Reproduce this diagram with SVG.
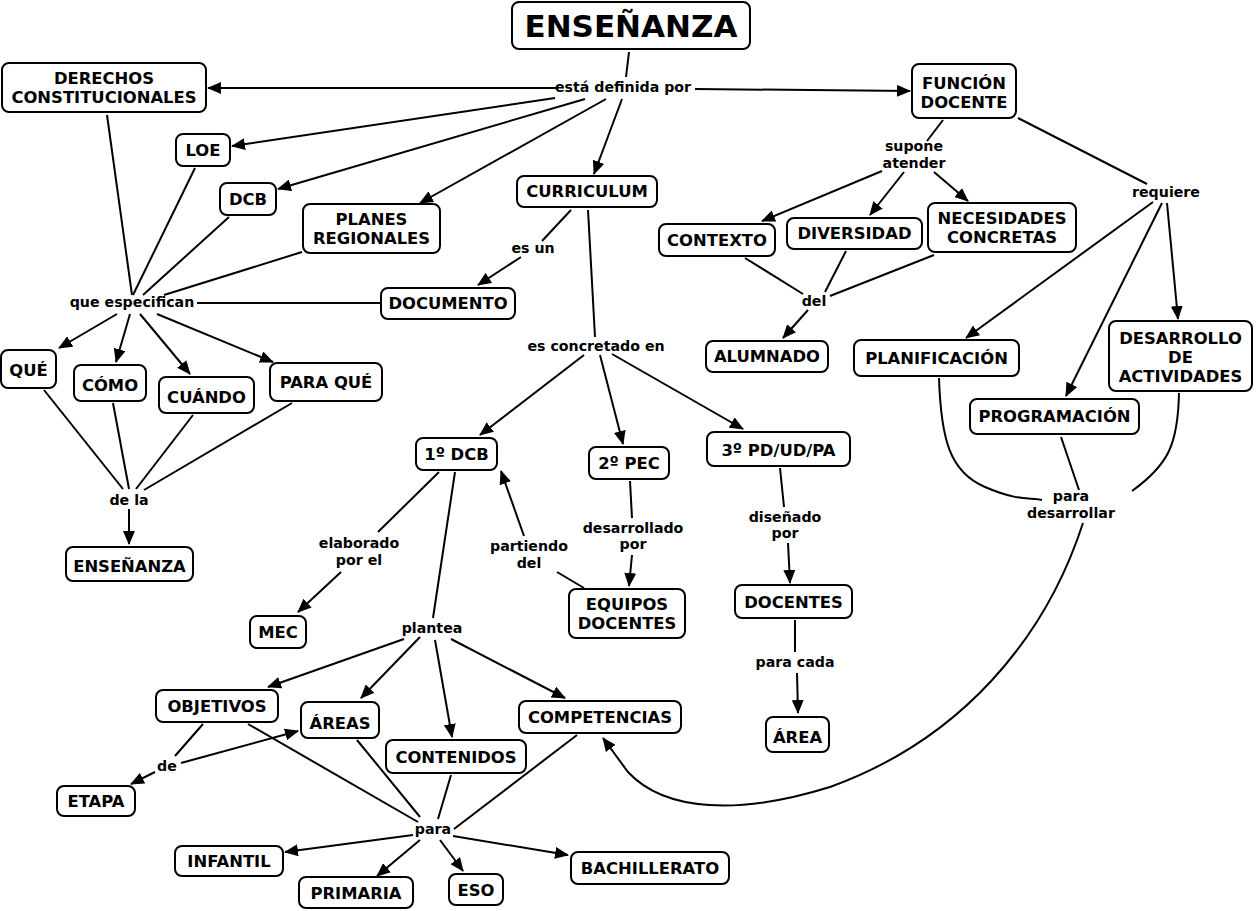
<svg xmlns="http://www.w3.org/2000/svg" width="1256" height="911" viewBox="0 0 1256 911">
<style>
.n rect{fill:#fff;stroke:#000;stroke-width:2}
.n text{font-family:"DejaVu Sans",Verdana,sans-serif;font-weight:bold;font-size:16.4px;text-anchor:middle;fill:#000}
.l{font-family:"DejaVu Sans",Verdana,sans-serif;font-weight:bold;font-size:14.2px;text-anchor:middle;fill:#000}
#connectors path,#connectors line{fill:none;stroke:#000;stroke-width:2}
.a{marker-end:url(#arr)}
</style>
<defs>
<marker id="arr" markerUnits="userSpaceOnUse" markerWidth="14" markerHeight="12" refX="13" refY="6" orient="auto"><path d="M0,0 L14,6 L0,12 z" fill="#000"/></marker>
</defs>
<rect width="1256" height="911" fill="#fff"/>
<g id="connectors">
<line x1="629" y1="52" x2="626" y2="77"/>
<line class="a" x1="556" y1="88" x2="208" y2="88"/>
<line class="a" x1="695" y1="89" x2="910" y2="91"/>
<line class="a" x1="555" y1="98" x2="232" y2="146"/>
<line class="a" x1="585" y1="99" x2="278" y2="189"/>
<line class="a" x1="606" y1="99" x2="420" y2="203"/>
<line class="a" x1="622" y1="99" x2="594" y2="174"/>
<line x1="571" y1="210" x2="542" y2="241"/>
<line class="a" x1="521" y1="257" x2="478" y2="285"/>
<line x1="588" y1="210" x2="595" y2="337"/>
<line class="a" x1="584" y1="355" x2="480" y2="435"/>
<line class="a" x1="600" y1="355" x2="623" y2="444"/>
<line class="a" x1="612" y1="354" x2="743" y2="429"/>
<line x1="107" y1="115" x2="132" y2="295"/>
<line x1="195" y1="168" x2="133" y2="295"/>
<line x1="229" y1="217" x2="143" y2="295"/>
<line x1="302" y1="252" x2="164" y2="295"/>
<line x1="197" y1="303" x2="380" y2="303"/>
<line class="a" x1="117" y1="314" x2="59" y2="348"/>
<line class="a" x1="130" y1="314" x2="116" y2="362"/>
<line class="a" x1="140" y1="314" x2="190" y2="374"/>
<line class="a" x1="157" y1="314" x2="273" y2="362"/>
<line x1="44" y1="390" x2="123" y2="489"/>
<line x1="113" y1="403" x2="129" y2="489"/>
<line x1="193" y1="415" x2="136" y2="489"/>
<line x1="292" y1="403" x2="144" y2="490"/>
<line class="a" x1="129" y1="509" x2="129" y2="544"/>
<line x1="439" y1="472" x2="378" y2="532"/>
<line class="a" x1="341" y1="572" x2="298" y2="612"/>
<line x1="455" y1="472" x2="433" y2="618"/>
<line x1="584" y1="588" x2="557" y2="572"/>
<line class="a" x1="524" y1="536" x2="501" y2="471"/>
<line x1="630" y1="481" x2="632" y2="518"/>
<line class="a" x1="632" y1="555" x2="629" y2="586"/>
<line x1="780" y1="468" x2="784" y2="507"/>
<line class="a" x1="788" y1="543" x2="790" y2="583"/>
<line x1="795" y1="620" x2="795" y2="652"/>
<line class="a" x1="797" y1="673" x2="798" y2="713"/>
<line class="a" x1="404" y1="639" x2="268" y2="687"/>
<line class="a" x1="420" y1="637" x2="361" y2="698"/>
<line class="a" x1="435" y1="640" x2="452" y2="737"/>
<line class="a" x1="451" y1="639" x2="565" y2="698"/>
<line x1="203" y1="724" x2="175" y2="756"/>
<line class="a" x1="155" y1="772" x2="131" y2="784"/>
<line class="a" x1="181" y1="763" x2="298" y2="731"/>
<line x1="248" y1="724" x2="418" y2="822"/>
<line x1="357" y1="740" x2="420" y2="817"/>
<line x1="451" y1="775" x2="438" y2="819"/>
<line x1="577" y1="735" x2="454" y2="829"/>
<line class="a" x1="413" y1="835" x2="285" y2="852"/>
<line class="a" x1="420" y1="840" x2="377" y2="876"/>
<line class="a" x1="440" y1="840" x2="463" y2="871"/>
<line class="a" x1="453" y1="836" x2="568" y2="855"/>
<line x1="943" y1="120" x2="927" y2="141"/>
<line class="a" x1="882" y1="171" x2="762" y2="221"/>
<line class="a" x1="904" y1="172" x2="870" y2="215"/>
<line class="a" x1="934" y1="172" x2="968" y2="201"/>
<line x1="1018" y1="118" x2="1147" y2="184"/>
<line class="a" x1="1153" y1="202" x2="966" y2="338"/>
<line class="a" x1="1162" y1="203" x2="1066" y2="396"/>
<line class="a" x1="1167" y1="203" x2="1178" y2="319"/>
<line x1="745" y1="258" x2="803" y2="294"/>
<line x1="846" y1="251" x2="825" y2="292"/>
<line x1="934" y1="255" x2="830" y2="296"/>
<line class="a" x1="808" y1="310" x2="783" y2="338"/>
<path d="M939,378 C941,440 950,472 985,487 S1030,497 1042,500"/>
<line x1="1061" y1="437" x2="1079" y2="490"/>
<path d="M1179,393 C1178,445 1168,465 1132,491"/>
<path class="a" d="M1083,523 C1045,640 960,740 830,787 C740,815 665,812 628,772 L603,738"/>
</g>
<g id="n_ensenanza" class="n"><rect x="512" y="2" width="238" height="47" rx="7"/><text x="631" y="37" style="font-size:31px">ENSEÑANZA</text></g>
<g id="n_derechos" class="n"><rect x="2" y="63" width="204" height="49" rx="7"/><text x="104" y="84">DERECHOS</text><text x="104" y="103">CONSTITUCIONALES</text></g>
<g id="n_loe" class="n"><rect x="176" y="134" width="54" height="32" rx="7"/><text x="203" y="156">LOE</text></g>
<g id="n_dcb" class="n"><rect x="220" y="183" width="56" height="32" rx="7"/><text x="248" y="205">DCB</text></g>
<g id="n_planes" class="n"><rect x="303" y="204" width="137" height="49" rx="7"/><text x="371.5" y="225">PLANES</text><text x="371.5" y="244">REGIONALES</text></g>
<g id="n_documento" class="n"><rect x="381" y="288" width="134" height="31" rx="7"/><text x="448" y="309">DOCUMENTO</text></g>
<g id="n_curriculum" class="n"><rect x="517" y="176" width="140" height="31" rx="7"/><text x="587" y="197">CURRICULUM</text></g>
<g id="n_funcion" class="n"><rect x="912" y="64" width="104" height="54" rx="7"/><text x="964" y="89">FUNCIÓN</text><text x="964" y="108">DOCENTE</text></g>
<g id="n_contexto" class="n"><rect x="659" y="224" width="116" height="32" rx="7"/><text x="717" y="246">CONTEXTO</text></g>
<g id="n_diversidad" class="n"><rect x="787" y="218" width="135" height="31" rx="7"/><text x="854.5" y="239">DIVERSIDAD</text></g>
<g id="n_necesidades" class="n"><rect x="928" y="203" width="148" height="49" rx="7"/><text x="1002" y="224">NECESIDADES</text><text x="1002" y="243">CONCRETAS</text></g>
<g id="n_alumnado" class="n"><rect x="706" y="341" width="122" height="31" rx="7"/><text x="767" y="362">ALUMNADO</text></g>
<g id="n_planificacion" class="n"><rect x="854" y="340" width="165" height="36" rx="7"/><text x="936.5" y="364">PLANIFICACIÓN</text></g>
<g id="n_programacion" class="n"><rect x="970" y="399" width="169" height="35" rx="7"/><text x="1054.5" y="422">PROGRAMACIÓN</text></g>
<g id="n_desarrollo" class="n"><rect x="1109" y="321" width="143" height="70" rx="7"/><text x="1180.5" y="344">DESARROLLO</text><text x="1180.5" y="363">DE</text><text x="1180.5" y="382">ACTIVIDADES</text></g>
<g id="n_que" class="n"><rect x="1" y="350" width="55" height="38" rx="7"/><text x="28.5" y="376">QUÉ</text></g>
<g id="n_como" class="n"><rect x="74" y="365" width="72" height="36" rx="7"/><text x="110" y="391">CÓMO</text></g>
<g id="n_cuando" class="n"><rect x="159" y="377" width="95" height="36" rx="7"/><text x="206.5" y="403">CUÁNDO</text></g>
<g id="n_paraque" class="n"><rect x="270" y="363" width="112" height="38" rx="7"/><text x="326" y="388">PARA QUÉ</text></g>
<g id="n_ensenanza2" class="n"><rect x="66" y="547" width="127" height="34" rx="7"/><text x="129.5" y="572">ENSEÑANZA</text></g>
<g id="n_1dcb" class="n"><rect x="416" y="438" width="81" height="32" rx="7"/><text x="456.5" y="460">1º DCB</text></g>
<g id="n_2pec" class="n"><rect x="589" y="447" width="80" height="32" rx="7"/><text x="629" y="469">2º PEC</text></g>
<g id="n_3pd" class="n"><rect x="707" y="432" width="143" height="34" rx="7"/><text x="778.5" y="456">3º PD/UD/PA</text></g>
<g id="n_equipos" class="n"><rect x="569" y="589" width="116" height="49" rx="7"/><text x="627" y="610">EQUIPOS</text><text x="627" y="629">DOCENTES</text></g>
<g id="n_docentes" class="n"><rect x="735" y="585" width="117" height="33" rx="7"/><text x="793.5" y="608">DOCENTES</text></g>
<g id="n_area" class="n"><rect x="766" y="717" width="63" height="35" rx="7"/><text x="797.5" y="743">ÁREA</text></g>
<g id="n_mec" class="n"><rect x="250" y="616" width="56" height="32" rx="7"/><text x="278" y="638">MEC</text></g>
<g id="n_objetivos" class="n"><rect x="156" y="690" width="122" height="32" rx="7"/><text x="217" y="712">OBJETIVOS</text></g>
<g id="n_areas" class="n"><rect x="301" y="702" width="78" height="36" rx="7"/><text x="340" y="729">ÁREAS</text></g>
<g id="n_contenidos" class="n"><rect x="386" y="740" width="140" height="33" rx="7"/><text x="456" y="763">CONTENIDOS</text></g>
<g id="n_competencias" class="n"><rect x="519" y="701" width="162" height="32" rx="7"/><text x="600" y="723">COMPETENCIAS</text></g>
<g id="n_etapa" class="n"><rect x="57" y="786" width="78" height="30" rx="7"/><text x="96" y="807">ETAPA</text></g>
<g id="n_infantil" class="n"><rect x="175" y="846" width="108" height="30" rx="7"/><text x="229" y="867">INFANTIL</text></g>
<g id="n_primaria" class="n"><rect x="299" y="877" width="114" height="31" rx="7"/><text x="356" y="899">PRIMARIA</text></g>
<g id="n_eso" class="n"><rect x="449" y="874" width="54" height="31" rx="7"/><text x="476" y="896">ESO</text></g>
<g id="n_bach" class="n"><rect x="571" y="852" width="158" height="32" rx="7"/><text x="650" y="874">BACHILLERATO</text></g>
<g id="links">
<text class="l" x="623" y="92">está definida por</text>
<text class="l" x="132" y="307">que especifican</text>
<text class="l" x="533" y="253">es un</text>
<text class="l" x="596" y="351">es concretado en</text>
<text class="l" x="914" y="151">supone</text><text class="l" x="914" y="168">atender</text>
<text class="l" x="1166" y="197">requiere</text>
<text class="l" x="814" y="306">del</text>
<text class="l" x="129" y="505">de la</text>
<text class="l" x="359" y="548">elaborado</text><text class="l" x="359" y="565">por el</text>
<text class="l" x="529" y="551">partiendo</text><text class="l" x="529" y="568">del</text>
<text class="l" x="633" y="533">desarrollado</text><text class="l" x="633" y="549">por</text>
<text class="l" x="785" y="522">diseñado</text><text class="l" x="785" y="538">por</text>
<text class="l" x="795" y="667">para cada</text>
<text class="l" x="432" y="633">plantea</text>
<text class="l" x="167" y="771">de</text>
<text class="l" x="433" y="834">para</text>
<text class="l" x="1071" y="501">para</text><text class="l" x="1071" y="518">desarrollar</text>
</g>
</svg>
